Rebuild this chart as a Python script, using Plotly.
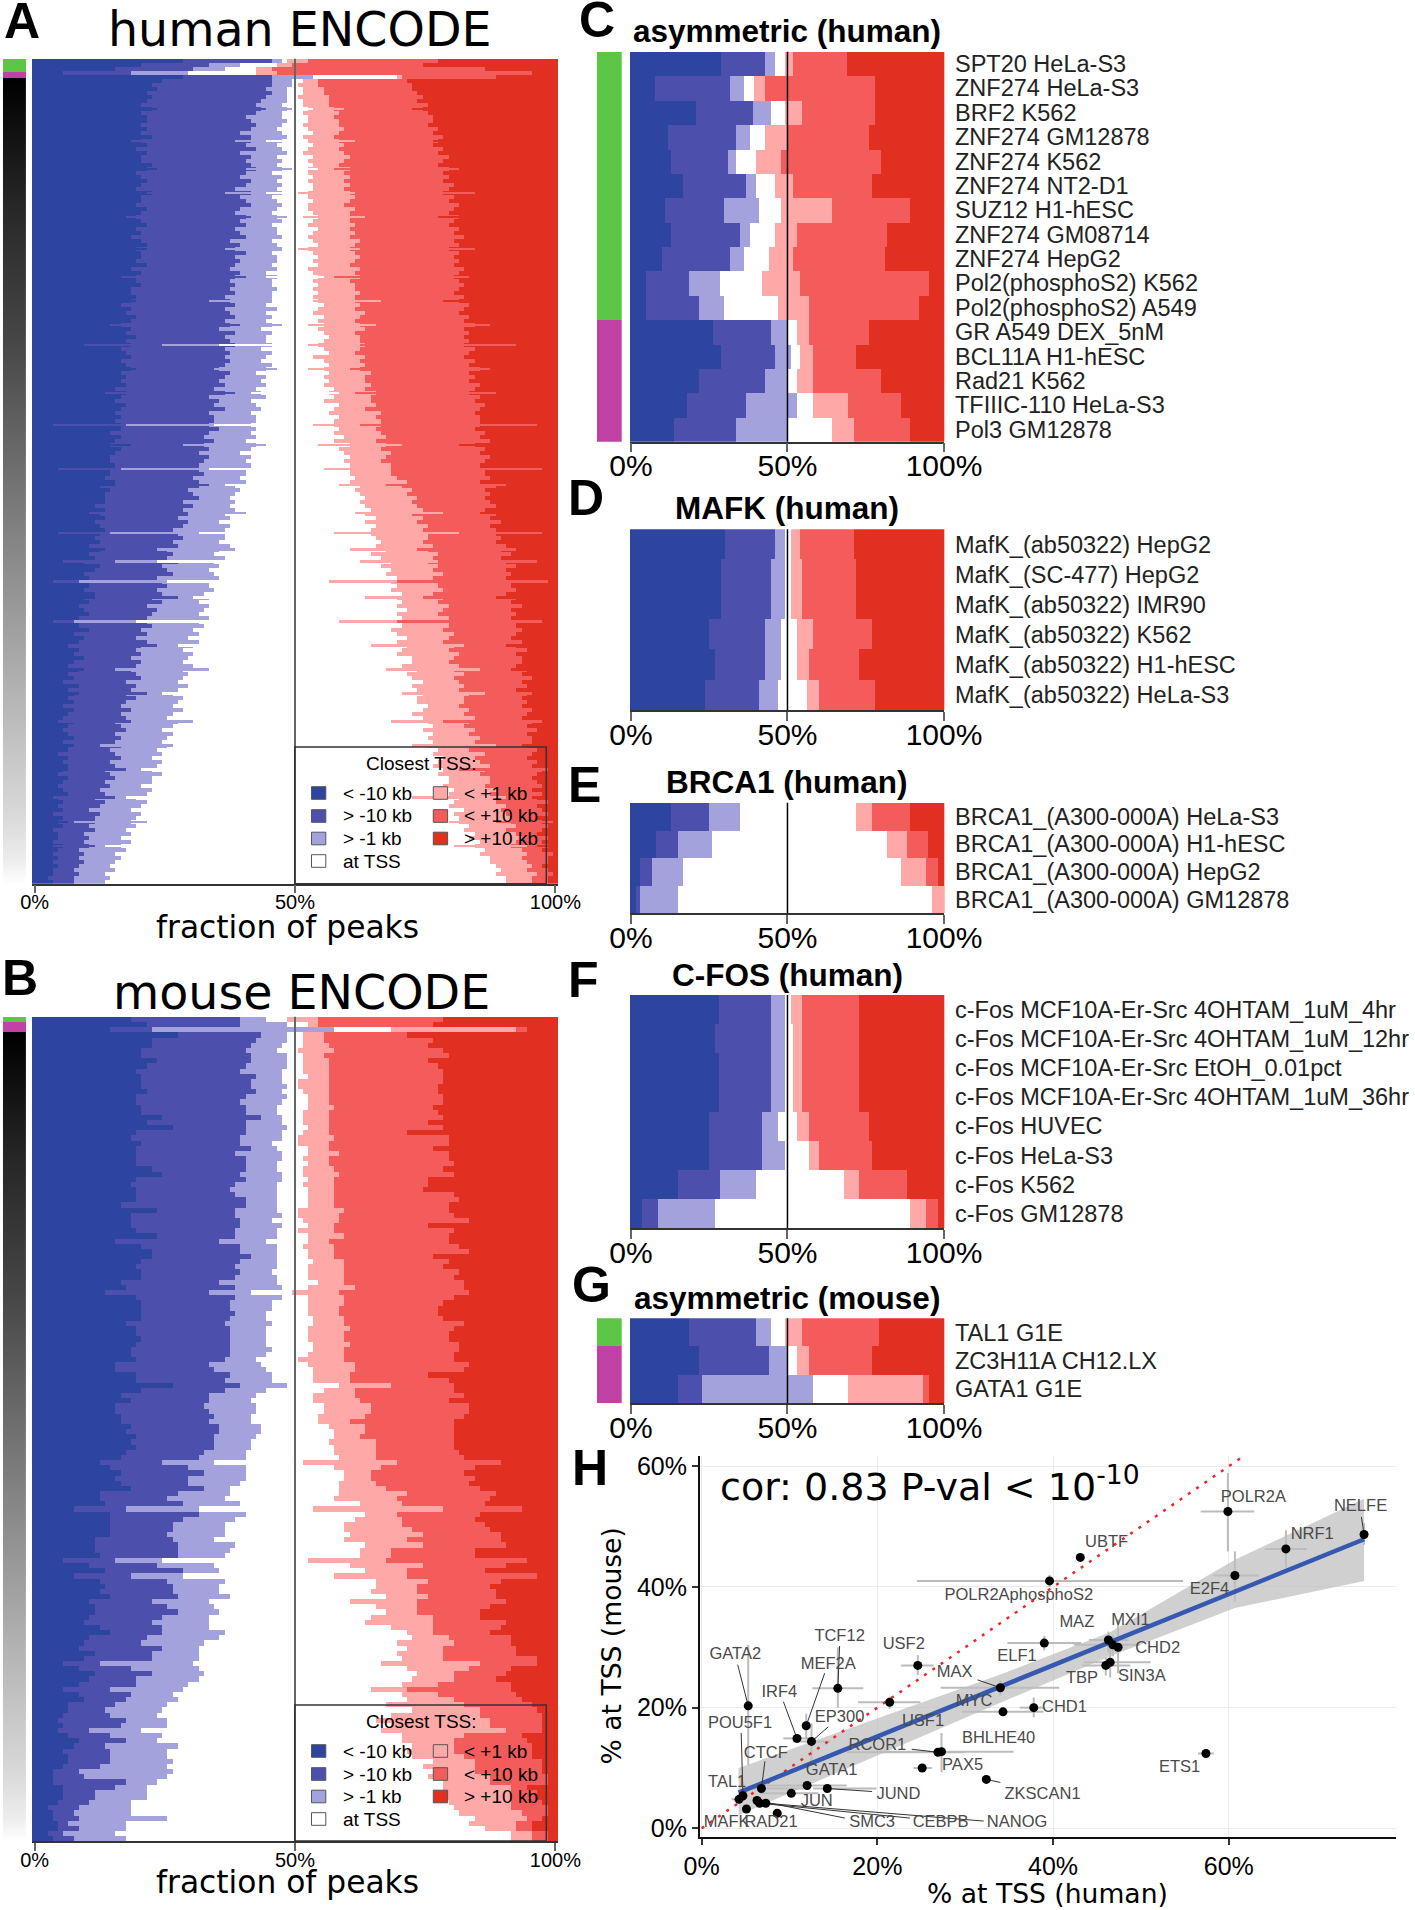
import plotly.graph_objects as go

W, H = 1415, 1910
SANS = "Liberation Sans"
DEJA = "DejaVu Sans"
COLS = ["#2D459F", "#4C50AC", "#A4A2DC", "#FFFFFF", "#FEA8A8", "#F35C5A", "#E13022"]
GREEN, MAGENTA = "#5CC744", "#BF42A4"
LEGEND_LABELS = ["< -10 kb", "> -10 kb", "> -1 kb", "at TSS", "< +1 kb", "< +10 kb", "> +10 kb"]

# Panel A: upper edge (percent) of each class per experiment row
A_B1 = [28,20,15,5,28,24,22,23,21,22,
21,20,22,20,21,21,20,21,20,22,
20,21,19,21,20,20,22,21,19,20,
21,20,19,22,20,20,19,21,20,19,
20,21,19,20,18,20,21,19,20,20,
19,21,18,20,19,19,20,18,18,19,
18,16,18,17,19,18,16,18,17,19,
17,18,16,17,18,16,17,18,16,17,
16,17,15,17,16,15,17,16,15,16,
15,16,16,14,16,15,14,16,15,14,
14,15,14,14,13,15,12,14,13,13,
13,11,13,12,13,11,12,13,12,11,
12,10,12,10,11,9,12,11,9,10,
10,10,9,11,9,10,8,9,10,8,
8,8,10,7,9,8,6,8,7,9,
7,6,8,6,7,5,8,6,7,6,
7,5,7,6,5,7,6,5,6,7,
5,6,6,4,6,5,6,5,4,6,
5,4,5,6,4,5,4,5,3,5,
4,5,3,4,4,3,5,4,3,4,
3,4,3,3,2,3]
A_B2 = [45,33,30,18,45,45,45,44,45,44,
43,42,43,42,40,41,42,41,39,41,
41,40,42,39,41,40,41,42,40,39,
41,40,38,41,39,40,41,39,38,40,
39,40,38,39,40,37,39,38,40,38,
39,38,37,39,38,37,38,37,38,36,
37,38,36,37,38,36,37,35,38,36,
37,38,36,37,36,37,36,35,37,36,
35,36,34,36,33,35,34,36,33,34,
34,33,35,33,32,34,32,33,31,33,
32,31,31,32,30,31,31,29,30,31,
28,30,28,29,27,29,28,26,27,28,
26,27,25,26,25,27,24,25,26,23,
24,25,23,24,22,24,21,23,22,21,
21,22,20,21,19,21,20,19,20,18,
20,19,18,19,20,17,19,18,17,19,
17,16,18,16,17,15,16,17,15,16,
15,16,14,15,16,14,15,13,14,15,
13,14,12,13,11,13,12,10,12,11,
11,10,11,9,10,9,10,8,9,8,
9,8,7,8,7,7]
A_B3 = [47,39,36,29,53,49,49,48,48,48,
48,47,48,47,47,48,47,46,47,48,
47,46,47,48,46,47,46,47,45,47,
46,47,46,47,45,46,47,46,45,46,
47,45,46,46,47,45,46,47,45,46,
46,45,46,44,46,45,45,46,45,45,
45,44,46,44,45,44,45,43,45,44,
44,45,43,45,44,43,45,44,42,44,
43,44,42,43,44,41,42,43,41,42,
42,41,42,41,42,40,42,41,39,41,
40,41,40,40,39,40,38,39,38,37,
38,37,38,36,37,35,37,36,36,36,
35,37,35,34,36,34,35,33,34,35,
33,33,34,32,33,31,33,32,31,33,
31,32,30,31,29,31,30,28,30,29,
28,30,28,29,28,27,29,27,26,28,
27,26,28,26,25,27,26,24,26,25,
24,25,23,24,22,24,23,22,24,22,
22,20,22,21,19,21,20,18,20,19,
18,19,17,18,16,18,16,17,15,16,
15,14,15,13,14,13]
A_B4 = [48,46,42,42,69,51,50,51,51,50,
51,51,52,51,52,52,51,52,53,51,
52,53,52,51,53,52,53,52,52,53,
52,53,53,52,52,53,52,52,53,54,
53,52,54,53,52,53,54,52,53,54,
53,54,52,53,54,53,54,53,54,53,
54,55,54,53,55,54,55,54,55,56,
55,54,55,56,53,55,56,55,56,55,
56,55,57,56,57,55,58,57,56,58,
57,57,58,57,59,57,60,58,59,60,
59,60,60,60,61,60,62,61,62,63,
62,63,64,63,65,63,65,64,64,65,
66,65,67,64,66,68,66,68,67,69,
68,69,68,70,69,70,69,71,69,70,
70,70,68,69,71,69,71,70,69,72,
72,70,73,71,72,74,72,73,74,73,
73,75,74,72,74,75,76,74,76,75,
76,75,77,76,78,77,76,78,77,79,
79,78,80,79,81,80,79,82,80,81,
81,83,82,84,83,85,84,86,85,87,
87,88,89,88,90,90]
A_B5 = [52,49,45,46,70,54,54,55,55,56,
56,56,57,58,57,58,58,59,58,57,
58,59,58,59,60,59,58,60,59,60,
59,60,59,60,61,60,59,61,60,60,
60,61,60,61,60,62,61,60,61,62,
61,60,62,61,62,60,61,61,62,61,
61,62,61,63,62,61,62,63,61,62,
62,63,62,61,63,62,63,62,64,63,
63,64,63,65,64,64,65,63,66,65,
66,66,65,66,67,65,67,66,68,67,
66,68,68,68,69,71,70,72,71,73,
72,73,74,72,74,73,75,74,75,75,
74,76,75,77,76,75,77,76,78,76,
77,77,78,76,78,77,79,78,77,79,
79,79,78,80,79,78,80,79,81,80,
79,81,80,82,80,81,82,81,83,82,
82,81,83,82,84,83,82,84,83,85,
84,85,83,86,84,85,87,86,85,87,
87,86,88,87,89,88,90,89,90,91,
91,92,90,92,93,92,91,93,94,93,
94,95,94,96,95,95]
A_B6 = [77,74,86,95,88,71,72,72,73,74,
73,75,74,75,76,76,75,77,76,78,
77,76,78,77,79,78,77,79,78,79,
78,80,79,78,80,79,81,80,79,81,
80,79,81,80,82,80,81,79,81,80,
81,80,82,81,80,81,82,81,80,82,
81,83,82,81,83,82,84,82,83,82,
83,82,84,83,82,84,83,85,83,84,
83,85,84,83,85,84,86,85,84,85,
85,85,84,86,85,87,84,86,85,87,
86,85,86,86,87,85,88,86,87,86,
87,88,86,88,87,89,87,88,88,89,
88,90,89,91,89,90,92,90,91,90,
91,91,92,90,92,91,93,91,92,91,
92,92,93,92,91,93,92,94,92,93,
93,92,94,93,95,93,94,92,94,93,
94,93,95,94,93,95,94,96,94,95,
95,94,96,95,94,96,95,97,96,95,
96,97,95,97,96,98,96,97,98,96,
97,98,97,96,98,97,98,97,99,98,
98,97,98,99,98,98]

# Panel A: the thin outlying experiments that stick out of their neighbours
A_T_ROW = [12,20,27,33,39,47,54,60,66,71,77,83,91,96,102,106,113,118,122,125,130,134,140,146,152,158,165,171,177,184,190,196]
A_T_B1 = [23,18,23,21,17,21,16,19,14,9,19,13,3,18,4,15,10,4,13,5,3,11,3,6,9,8,4,7,6,3,6,3]
A_T_B2 = [44,38,40,36,41,36,40,33,39,24,34,38,17,28,16,33,29,14,23,15,8,27,7,23,15,21,18,12,17,15,7,11]
A_T_B3 = [49,44,49,44,48,47,44,45,47,35,46,41,34,44,33,36,40,31,38,23,25,30,19,27,33,24,30,26,20,17,21,13]
A_T_B4 = [53,52,54,50,51,50,55,53,52,52,52,58,53,54,55,58,61,57,60,62,56,63,58,64,67,70,68,72,78,72,79,80]
A_T_B5 = [59,61,57,61,63,62,57,66,65,62,60,61,62,70,68,67,78,81,73,77,69,74,69,82,85,86,78,88,81,90,88,94]
A_T_B6 = [72,76,81,84,77,84,83,78,87,92,87,88,96,81,97,90,85,97,92,96,98,88,97,90,91,95,97,93,98,95,99,96]

# Panel B
B_B1 = [18,21,14,27,22,22,20,20,23,21,
19,20,20,20,21,19,19,20,20,24,
21,26,19,18,20,19,19,19,19,22,
24,19,18,19,19,19,16,23,18,18,
18,19,23,15,20,22,22,20,19,20,
20,16,17,13,19,20,20,20,20,17,
19,19,20,19,18,18,19,15,15,19,
19,26,20,16,18,15,15,16,16,18,
17,19,18,19,17,16,12,14,16,15,
16,18,12,12,13,7,14,14,14,14,
14,11,11,11,12,5,10,13,7,12,
13,12,14,10,11,11,10,9,12,14,
10,9,8,11,9,5,8,11,10,8,
5,8,9,6,6,5,4,5,4,6,
8,7,5,6,6,5,3,3,3,5,
5,5,4,2,3,3,4,4,2,3]
B_B2 = [39,39,22,43,42,41,40,41,41,40,
39,42,41,41,42,40,39,40,40,43,
40,40,40,39,39,41,38,40,40,40,
39,40,38,37,38,40,40,38,38,39,
39,38,38,35,39,39,41,39,38,39,
38,35,38,33,38,37,37,38,37,36,
37,37,37,37,37,37,36,33,34,37,
36,39,36,33,33,32,33,34,33,35,
35,34,34,34,32,31,24,29,32,29,
29,32,27,25,28,17,31,28,26,26,
25,26,27,27,27,15,23,28,18,25,
26,26,27,22,25,27,24,22,24,24,
21,20,24,22,22,12,18,22,19,19,
14,18,17,15,13,14,17,16,10,14,
17,13,14,14,14,12,8,9,17,15,
11,11,10,8,7,8,6,8,5,7]
B_B3 = [44,48,57,48,48,47,46,48,48,48,
47,47,47,48,47,48,47,46,46,47,
47,48,47,47,45,46,47,47,46,46,
47,47,46,46,46,46,46,46,47,45,
47,46,46,44,46,46,46,46,46,45,
46,46,47,41,47,45,45,44,44,45,
44,44,44,44,45,44,42,43,44,45,
45,48,44,42,41,42,42,41,41,43,
43,42,41,41,40,40,34,40,40,40,
39,37,37,36,39,31,40,38,36,36,
36,34,38,37,36,24,34,35,28,36,
35,35,37,33,34,35,33,33,33,36,
35,32,31,31,31,30,31,32,31,29,
28,26,27,25,24,23,25,25,20,24,
23,27,25,25,26,25,26,25,23,21,
21,21,18,18,18,25,17,17,15,17]
B_B4 = [48,52,68,51,51,51,50,51,51,51,
51,52,50,50,51,52,52,52,51,51,
51,52,51,50,50,52,52,51,52,51,
51,52,51,52,52,52,52,50,50,51,
52,50,52,52,51,52,52,53,52,52,
52,54,52,49,52,52,52,52,53,53,
52,52,52,53,53,52,50,52,53,53,
53,58,55,53,53,55,55,54,54,56,
57,57,56,57,57,58,51,57,59,59,
58,58,58,57,62,53,63,61,59,59,
60,59,63,62,62,52,60,63,57,65,
65,64,67,60,65,67,64,63,68,71,
72,69,71,69,70,66,71,73,72,70,
64,70,71,67,72,68,65,68,66,70,
70,72,71,72,76,74,77,75,78,78,
78,78,79,80,81,84,83,86,91,91]
B_B5 = [54,54,92,55,55,56,57,55,56,56,
56,56,56,56,56,56,56,57,56,56,
56,56,56,57,56,56,58,56,56,57,
58,57,57,57,57,57,57,59,58,58,
57,57,59,56,57,57,57,59,59,59,
59,59,61,58,59,59,58,58,59,59,
60,59,59,60,59,59,59,61,61,60,
60,68,61,61,62,64,64,63,60,63,
63,62,65,65,65,65,69,66,64,64,
65,67,71,69,70,78,69,70,70,72,
74,71,74,68,68,67,74,71,71,75,
73,73,75,73,73,73,76,76,76,76,
79,80,78,78,78,85,83,80,80,77,
71,77,80,82,85,85,87,87,90,82,
80,80,80,82,84,84,84,87,87,91,
91,91,91,91,93,94,92,92,95,95]
B_B6 = [78,76,94,71,76,75,78,79,75,77,
78,78,78,77,77,78,78,76,77,78,
75,78,71,79,79,76,79,79,80,78,
80,75,75,74,80,81,79,79,80,83,
75,80,79,79,81,83,76,79,78,81,
80,82,82,83,80,78,77,77,78,82,
80,79,79,81,81,80,80,83,82,75,
79,80,80,82,79,83,83,82,80,80,
80,80,80,80,81,82,89,84,82,84,
83,85,88,87,86,93,85,84,86,87,
89,89,90,84,84,94,90,86,96,89,
87,88,88,90,87,85,85,90,89,87,
91,91,92,92,96,96,91,90,88,91,
91,92,93,95,96,97,97,97,97,93,
94,95,95,95,97,97,97,98,98,94,
96,96,97,98,98,97,95,95,98,98]

C_LABELS = ["SPT20 HeLa-S3","ZNF274 HeLa-S3","BRF2 K562","ZNF274 GM12878","ZNF274 K562","ZNF274 NT2-D1",
            "SUZ12 H1-hESC","ZNF274 GM08714","ZNF274 HepG2","Pol2(phosphoS2) K562","Pol2(phosphoS2) A549",
            "GR A549 DEX_5nM","BCL11A H1-hESC","Rad21 K562","TFIIIC-110 HeLa-S3","Pol3 GM12878"]
C_B1 = [28.6,7.7,20.8,11.6,12.8,16.6,10.9,12.8,9.7,4.8,4.8,26,28.6,21.5,17.8,13.5]
C_B2 = [42.8,31.6,38.9,33.5,30.8,36.6,29.7,34.6,31.6,18.4,21.5,44.7,46,42.8,36.6,33.5]
C_B3 = [46,35.9,44.7,37.8,33.5,39.7,40.9,37.8,35.9,28.4,29.7,50,51,50,52.9,50]
C_B4 = [49,39.1,49,42.8,39.7,46,47.8,46,44.1,41.7,46.8,52.9,54,52.9,57.9,64.1]
C_B5 = [51.7,42.8,54.7,49.7,47.8,51.7,64.1,52.9,51.7,54,56.8,56.8,57.9,57.9,69.1,71]
C_B6 = [68.9,78,78,76,79.9,76.8,89.1,81.8,81,95,91.9,76,71.8,79.9,86.2,89.1]

D_LABELS = ["MafK_(ab50322) HepG2","MafK_(SC-477) HepG2","MafK_(ab50322) IMR90","MafK_(ab50322) K562",
            "MafK_(ab50322) H1-hESC","MafK_(ab50322) HeLa-S3"]
D_B1 = [29.8,28.6,28.6,24.9,26.7,23.6]
D_B2 = [46,44.7,44.7,42.8,42.8,40.9]
D_B3 = [49,49,49,47.8,47.8,46.8]
D_B4 = [51,51,51,52.9,52.9,56.1]
D_B5 = [54,54.7,54.7,57.9,56.8,59.9]
D_B6 = [71,71.8,71.8,76.8,72.9,78]

E_LABELS = ["BRCA1_(A300-000A) HeLa-S3","BRCA1_(A300-000A) H1-hESC","BRCA1_(A300-000A) HepG2","BRCA1_(A300-000A) GM12878"]
E_B1 = [12.8,8,2.9,1.5]
E_B2 = [24.7,14.8,6.6,2.7]
E_B3 = [34.8,25.9,16.6,14.8]
E_B4 = [71.8,81.8,86.2,96.1]
E_B5 = [76.8,88.1,94.1,100]
E_B6 = [89.1,94.8,97.9,100]

F_LABELS = ["c-Fos MCF10A-Er-Src 4OHTAM_1uM_4hr","c-Fos MCF10A-Er-Src 4OHTAM_1uM_12hr","c-Fos MCF10A-Er-Src EtOH_0.01pct",
            "c-Fos MCF10A-Er-Src 4OHTAM_1uM_36hr","c-Fos HUVEC","c-Fos HeLa-S3","c-Fos K562","c-Fos GM12878"]
F_B1 = [27.9,26.7,27.9,27.9,24.9,24.9,14.8,3.5]
F_B2 = [44.7,44.7,44.7,44.7,41.7,41.7,28.4,8.4]
F_B3 = [49,49,49,49,46.8,49,39.7,26.6]
F_B4 = [51,51.7,51.7,51.7,52.9,56.8,68,89.1]
F_B5 = [54.7,54.7,54.7,54.7,56.8,59.9,72.9,94.1]
F_B6 = [72.9,72.9,72.9,72.9,76,76.8,88.1,98.1]

G_LABELS = ["TAL1 G1E","ZC3H11A CH12.LX","GATA1 G1E"]
G_B1 = [18.5,21.7,14.8]
G_B2 = [39.7,44.1,22.7]
G_B3 = [44.7,50,57.9]
G_B4 = [49,52.9,69.1]
G_B5 = [54.7,56.8,93.2]
G_B6 = [79.2,76.8,95]

# rank shading of the side strips, top to bottom
GRAY_LEVELS = [0,8,16,24,32,40,46,52,58,64,70,78,86,94,102,110,118,126,134,142,150,158,166,174,182,190,198,206,214,224,236,255]

# Panel H
H_NAMES = ["POLR2A","NELFE","UBTF","NRF1","E2F4","POLR2AphosphoS2","ELF1","MAZ","MXI1","CHD2","TBP","SIN3A","MAX","MYC","CHD1",
           "TCF12","USF2","GATA2","MEF2A","IRF4","EP300","USF1","RCOR1","BHLHE40","POU5F1","CTCF","PAX5","ETS1","GATA1","TAL1",
           "JUND","ZKSCAN1","JUN","MAFK","RAD21","SMC3","CEBPB","NANOG"]
H_X = [59.9,75.4,43.1,66.5,60.7,39.6,39,46.3,46.8,47.4,46,46.5,34,34.3,37.8,15.5,24.6,5.3,11.9,10.85,12.5,21.4,26.9,27.3,4.7,6.8,25.1,57.4,12,4.25,14.3,32.4,10.2,5.1,8.6,6.3,6.6,7.3]
H_Y = [52.5,48.7,44.9,46.3,41.9,41,30.7,31.2,30.4,30,27,27.5,23.3,19.3,20,23.2,27,20.3,17,14.9,14.4,20.9,12.6,12.7,5.4,6.6,10,12.4,7.1,4.8,6.6,8.1,5.8,3.2,2.5,4.6,4.15,4.15]
H_XLO = [56.8,75.4,43.1,64.1,58.2,24.5,34.8,44.1,42.4,47.4,43.3,43.5,27.2,29.6,36.2,12.6,22.7,5.3,11.9,9.3,10.4,17.8,16.5,20,4.7,4.7,24.1,56.5,7.4,3.4,12.7,32.4,6.6,5.1,8.6,6.3,6.6,7.3]
H_XHI = [62.9,75.4,43.1,68.9,63.4,54.8,43.2,48.6,49.9,47.4,48.8,51.1,40.7,38.9,38.9,18.4,26.4,5.3,11.9,12.3,14.6,24.9,30,35.5,4.7,11.6,26.2,58.3,16.5,4.7,19.9,32.4,13.3,5.1,8.6,6.3,6.6,7.3]
H_YLO = [45.9,47,44.9,43.2,37.6,40,29.5,29.1,28.5,25.7,25.3,25,22,19.3,18.4,20,25.4,10.5,14.7,14.9,10.8,19.8,12.6,9.3,5.4,6.6,10,12.4,7.1,4.8,6.6,8.1,5.8,3.2,2.5,4.6,4.15,4.15]
H_YHI = [58.9,50.6,44.9,49.4,45.9,42,31.9,32.6,32,34.6,28.3,29.9,24.5,19.3,21.7,30,28.7,30.4,19,14.9,17.4,21.8,12.6,15.8,5.4,6.6,10,12.4,7.1,4.8,6.6,8.1,5.8,3.2,2.5,4.6,4.15,4.15]
H_LABEL_X = [62.8,75,46.1,69.5,57.8,36.1,35.9,42.7,48.8,51.9,43.3,50.1,28.8,31,41.3,15.7,23,3.83,14.4,8.84,15.7,25.2,20,33.8,4.36,7.3,29.7,54.4,14.8,2.9,22.4,38.8,13.1,2.85,7.9,19.4,27.2,35.9]
H_LABEL_Y = [54.7,53.3,47.3,48.6,39.5,38.6,28.4,34,34.4,29.8,24.8,25.1,25.7,21,20,31.8,30.4,28.8,27.1,22.5,18.3,17.7,13.7,14.9,17.3,12.3,10.3,10,9.5,7.6,5.6,5.6,4.3,0.94,0.94,0.94,0.94,0.94]
CONN_NAMES = ["GATA2","IRF4","MEF2A","EP300","TCF12","POU5F1","CTCF","MAX","RCOR1","JUND","ZKSCAN1","NELFE","SMC3","CEBPB","NANOG"]
CONN_X = [4.1,9.3,14,14.4,15.7,4.5,7.2,31.4,23.9,19.4,34,75.1,16.3,23.7,32.1]
CONN_Y = [27.1,21,25.7,16.8,30.2,15.8,11.1,24.6,13.1,6.1,7.6,51.6,1.7,1.7,1.2]
FIT_X = [4.2,75.4]
FIT_Y = [5.9,47.9]
BAND_X = [4.2,34,46.5,60.7,75.4]
BAND_UP = [10,25.5,32.5,44.5,54.6]
BAND_LO = [2.2,20.8,28.5,36.5,41]
IDENT = [0,63]

fig = go.Figure()
layout = {}
shapes = []
annotations = []
axis_n = [0]


def px(x):
    return x / W


def py(y):
    return 1 - y / H


def new_axes(x0, x1, y0, y1, xaxis, yaxis):
    axis_n[0] += 1
    n = axis_n[0]
    sfx = "" if n == 1 else str(n)
    layout["xaxis" + sfx] = dict(domain=[px(x0), px(x1)], anchor="y" + sfx, **xaxis)
    layout["yaxis" + sfx] = dict(domain=[py(y1), py(y0)], anchor="x" + sfx, **yaxis)
    return "x" + sfx, "y" + sfx


def text(s, x, y, size, family=SANS, xanchor="center", color="#000000", angle=0):
    annotations.append(dict(text=s, x=px(x), y=py(y), xref="paper", yref="paper", showarrow=False,
                            xanchor=xanchor, yanchor="middle", textangle=angle,
                            font=dict(size=size, family=family, color=color)))


def draw_rows(rows, boundaries, lo, hi, shift, thickness, xa, ya):
    n = len(rows)
    edges = [[lo] * n] + [[v + shift for v in b] for b in boundaries] + [[hi] * n]
    for k, col in enumerate(COLS):
        fig.add_trace(go.Bar(y=rows, x=[edges[k + 1][i] - edges[k][i] for i in range(n)], base=edges[k], orientation="h",
                             width=thickness, marker=dict(color=col, line=dict(width=0)), xaxis=xa, yaxis=ya,
                             hoverinfo="skip", showlegend=False))


def stacked(boundaries, x0, x1, y0, y1, lo, hi, shift, tick_size, tick_len, standoff, labels=None, vline="#000000", vwidth=1.5):
    n = len(boundaries[0])
    rows = list(range(n))
    xaxis = dict(range=[lo, hi], tickmode="array", tickvals=[0, 50, 100], ticktext=["0%", "50%", "100%"],
                 ticks="outside", ticklen=tick_len, tickwidth=1.5, tickcolor="#666666", ticklabelstandoff=standoff,
                 tickfont=dict(size=tick_size, family=SANS, color="#000000"),
                 showline=True, linecolor="#333333", linewidth=1.5, showgrid=False, zeroline=False)
    yaxis = dict(range=[n - 0.5, -0.5], showgrid=False, zeroline=False, showline=False)
    if labels:
        yaxis.update(side="right", tickmode="array", tickvals=rows, ticktext=labels, ticks="outside", ticklen=5,
                     tickcolor="rgba(0,0,0,0)", tickfont=dict(size=23.5, family=SANS, color="#222222"))
    else:
        yaxis.update(showticklabels=False, ticks="")
    xa, ya = new_axes(x0, x1, y0, y1, xaxis, yaxis)
    draw_rows(rows, boundaries, lo, hi, shift, 1, xa, ya)
    shapes.append(dict(type="line", xref=xa, yref=ya + " domain", x0=50, x1=50, y0=0, y1=1,
                       line=dict(color=vline, width=vwidth), layer="above"))
    return n, xa, ya


def strip(x0, x1, y0, y1, n, green, magenta, gradient=True):
    xa, ya = new_axes(x0, x1, y0, y1, dict(range=[0, 1], visible=False),
                      dict(range=[n - 0.5, -0.5], visible=False))
    for start, size, col in [(0, green, GREEN), (green, magenta, MAGENTA)]:
        fig.add_trace(go.Bar(y=[start - 0.5 + size / 2], x=[1], base=0, width=[size], orientation="h",
                             marker=dict(color=col, line=dict(width=0)), xaxis=xa, yaxis=ya,
                             hoverinfo="skip", showlegend=False))
    if gradient:
        top = green + magenta
        dy = (n - top) / (len(GRAY_LEVELS) - 1)
        fig.add_trace(go.Heatmap(z=[[v, v] for v in GRAY_LEVELS], x=[0, 1], y0=top - 0.5, dy=dy, zsmooth="best",
                                 zmin=0, zmax=255, colorscale=[[0, "#000000"], [1, "#FFFFFF"]], showscale=False,
                                 xaxis=xa, yaxis=ya, hoverinfo="skip"))


def tss_legend(y_top, y_bottom):
    shapes.append(dict(type="rect", xref="paper", yref="paper", x0=px(294.8), x1=px(546.3), y0=py(y_bottom), y1=py(y_top),
                       line=dict(color="#333333", width=1.5), fillcolor="rgba(0,0,0,0)", layer="above"))
    text("Closest TSS:", 421.6, y_top + 16, 19)
    steps = [y_top + 46, y_top + 69, y_top + 91.5, y_top + 114]
    place = [(0, 0), (0, 1), (0, 2), (0, 3), (1, 0), (1, 1), (1, 2)]
    for (column, row), col, lab in zip(place, COLS, LEGEND_LABELS):
        sx = 311.5 if column == 0 else 433.3
        tx = 340.5 if column == 0 else 462.3
        yc = steps[row]
        shapes.append(dict(type="rect", xref="paper", yref="paper", x0=px(sx), x1=px(sx + 14.3), y0=py(yc + 6.3), y1=py(yc - 6.3),
                           fillcolor=col, line=dict(color="#555555", width=1), layer="above"))
        text(lab, tx, yc, 19, xanchor="left")


# Panels A and B
n_a, xa_a, ya_a = stacked([A_B1, A_B2, A_B3, A_B4, A_B5, A_B6], 32, 558, 58.7, 883.7, -0.5, 100.5, 0.5, 20, 8, -8, vline="#666666", vwidth=2)
draw_rows(A_T_ROW, [A_T_B1, A_T_B2, A_T_B3, A_T_B4, A_T_B5, A_T_B6], -0.5, 100.5, 0.5, 0.45, xa_a, ya_a)
strip(2.9, 26.2, 58.7, 883.7, n_a, 3.3, 1.5)
tss_legend(747, 883.7)
n_b, _, _ = stacked([B_B1, B_B2, B_B3, B_B4, B_B5, B_B6], 32, 558, 1016.7, 1841, -0.5, 100.5, 0.5, 20, 8, -8, vline="#666666", vwidth=2)
strip(2.9, 26.2, 1016.7, 1841, n_b, 1.05, 1.95)
tss_legend(1705, 1841)

# Panels C to G
SIDE_X = (629.7, 944.3)
n_c, _, _ = stacked([C_B1, C_B2, C_B3, C_B4, C_B5, C_B6], SIDE_X[0], SIDE_X[1], 51.7, 441.7, -0.4, 100.1, 0, 30, 9, -12, C_LABELS)
strip(596.7, 621.7, 51.7, 441.7, n_c, 11, 5, gradient=False)
stacked([D_B1, D_B2, D_B3, D_B4, D_B5, D_B6], SIDE_X[0], SIDE_X[1], 529.3, 710, -0.4, 100.1, 0, 30, 9, -12, D_LABELS)
stacked([E_B1, E_B2, E_B3, E_B4, E_B5, E_B6], SIDE_X[0], SIDE_X[1], 802.7, 913.3, -0.4, 100.1, 0, 30, 9, -12, E_LABELS)
stacked([F_B1, F_B2, F_B3, F_B4, F_B5, F_B6], SIDE_X[0], SIDE_X[1], 995, 1228.3, -0.4, 100.1, 0, 30, 9, -12, F_LABELS)
n_g, _, _ = stacked([G_B1, G_B2, G_B3, G_B4, G_B5, G_B6], SIDE_X[0], SIDE_X[1], 1318.3, 1403.3, -0.4, 100.1, 0, 30, 9, -12, G_LABELS)
strip(596.7, 621.7, 1318.3, 1403.3, n_g, 1, 2, gradient=False)

# Panel H
h_grid = dict(showgrid=True, gridcolor="#EBEBEB", gridwidth=1, zeroline=False, showline=True, linecolor="#111111", linewidth=2,
              ticks="outside", ticklen=6, tickwidth=1.5, tickcolor="#333333", tickmode="array",
              tickfont=dict(size=25, family=SANS, color="#000000"))
xh, yh = new_axes(700, 1395.7, 1456, 1836.7,
                  dict(range=[-0.19, 79], tickvals=[0, 20, 40, 60], ticktext=["0%", "20%", "40%", "60%"], **h_grid),
                  dict(range=[-1.39, 61.7], tickvals=[0, 20, 40, 60], ticktext=["0%", "20%", "40%", "60%"], **h_grid))
fig.add_trace(go.Scatter(x=H_X, y=H_Y, mode="markers", marker=dict(size=1, color="rgba(0,0,0,0)"),
                         error_x=dict(type="data", symmetric=False, array=[h - x for h, x in zip(H_XHI, H_X)],
                                      arrayminus=[x - l for x, l in zip(H_X, H_XLO)], thickness=2, width=0, color="#BBBBBB"),
                         error_y=dict(type="data", symmetric=False, array=[h - y for h, y in zip(H_YHI, H_Y)],
                                      arrayminus=[y - l for y, l in zip(H_Y, H_YLO)], thickness=2, width=0, color="#BBBBBB"),
                         xaxis=xh, yaxis=yh, hoverinfo="skip", showlegend=False))
fig.add_trace(go.Scatter(x=BAND_X + BAND_X[::-1], y=BAND_UP + BAND_LO[::-1], mode="none", fill="toself",
                         fillcolor="rgba(190,190,190,0.72)", xaxis=xh, yaxis=yh, hoverinfo="skip", showlegend=False))
fig.add_trace(go.Scatter(x=IDENT, y=IDENT, mode="lines", line=dict(color="#F0262A", width=2.5, dash="3px,7px"),
                         xaxis=xh, yaxis=yh, hoverinfo="skip", showlegend=False))
fig.add_trace(go.Scatter(x=FIT_X, y=FIT_Y, mode="lines", line=dict(color="#3558B0", width=4.5),
                         xaxis=xh, yaxis=yh, hoverinfo="skip", showlegend=False))
conn_x, conn_y = [], []
for name, cx, cy in zip(CONN_NAMES, CONN_X, CONN_Y):
    i = H_NAMES.index(name)
    conn_x += [cx, H_X[i], None]
    conn_y += [cy, H_Y[i], None]
fig.add_trace(go.Scatter(x=conn_x, y=conn_y, mode="lines", line=dict(color="#333333", width=1),
                         xaxis=xh, yaxis=yh, hoverinfo="skip", showlegend=False))
fig.add_trace(go.Scatter(x=H_X, y=H_Y, mode="markers", marker=dict(size=9, color="#000000"),
                         xaxis=xh, yaxis=yh, hoverinfo="skip", showlegend=False))
fig.add_trace(go.Scatter(x=H_LABEL_X, y=H_LABEL_Y, mode="text", text=H_NAMES, textposition="middle center",
                         textfont=dict(size=16.5, family=SANS, color="#4A4A4A"), cliponaxis=False,
                         xaxis=xh, yaxis=yh, hoverinfo="skip", showlegend=False))

# Titles and letters
text("human ENCODE", 299, 30, 47.5, DEJA)
text("mouse ENCODE", 301.7, 992, 47.5, DEJA)
text("fraction of peaks", 287, 927, 31.3, DEJA)
text("fraction of peaks", 287, 1882, 31.3, DEJA)
for s, y in [("asymmetric (human)", 31), ("MAFK (human)", 508), ("BRCA1 (human)", 782),
             ("C-FOS (human)", 975), ("asymmetric (mouse)", 1298)]:
    text("<b>" + s + "</b>", 787, y, 31.5)
for s, x, y in [("A", 2, 21), ("B", 0, 978), ("C", 577, 20), ("D", 566, 498), ("E", 566, 785),
                ("F", 566, 980), ("G", 570, 1285), ("H", 570, 1468)]:
    text("<b>" + s + "</b>", x, y, 50, xanchor="left")
text("cor: 0.83 P-val < 10<sup>-10</sup>", 718, 1484, 38, DEJA, xanchor="left")
text("% at TSS (human)", 1047, 1893, 26.6, DEJA)
text("% at TSS (mouse)", 610.5, 1646, 26.6, DEJA, angle=-90)

fig.update_layout(width=W, height=H, autosize=False, margin=dict(l=0, r=0, t=0, b=0, pad=0, autoexpand=False),
                  paper_bgcolor="#FFFFFF", plot_bgcolor="rgba(0,0,0,0)", barmode="overlay", bargap=0,
                  showlegend=False, shapes=shapes, annotations=annotations, **layout)
fig.write_html("out.html", config=dict(displayModeBar=False),
               post_script="document.body.style.margin='0';document.body.style.overflow='hidden';")
